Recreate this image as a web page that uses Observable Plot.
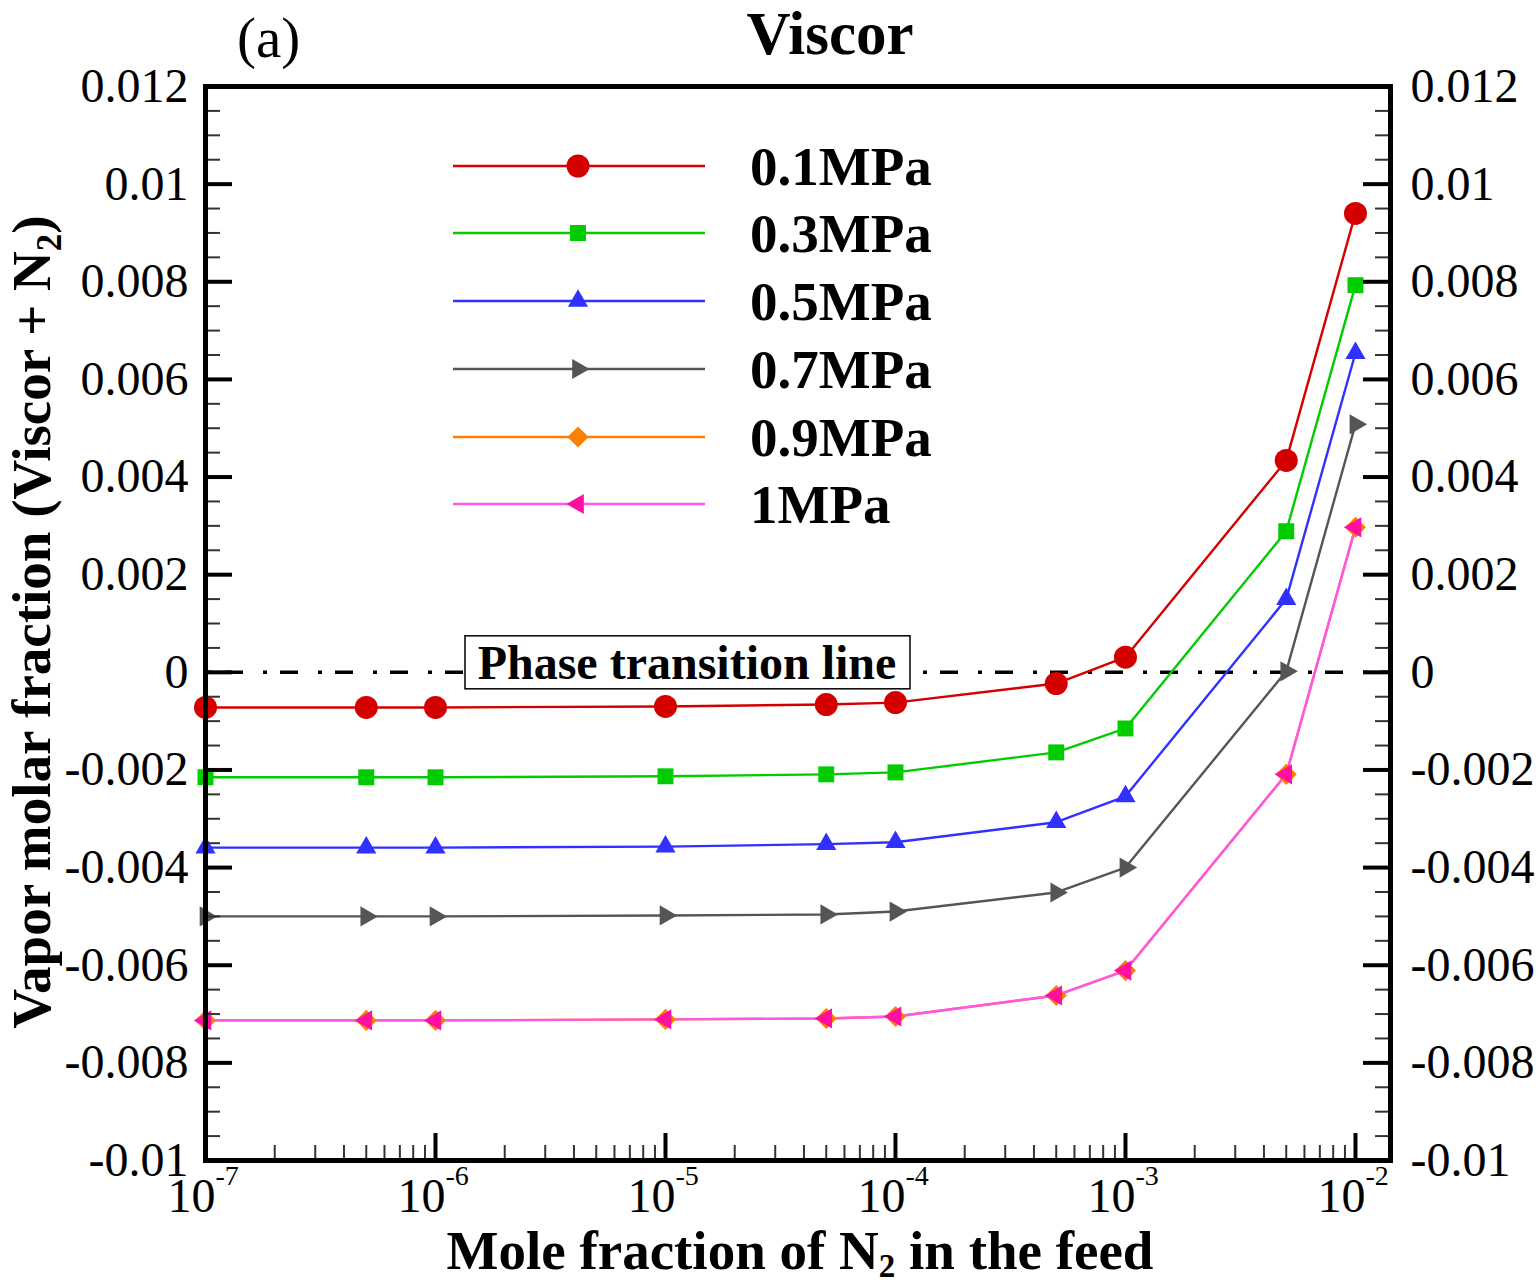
<!DOCTYPE html>
<html>
<head>
<meta charset="utf-8">
<script src="https://cdn.jsdelivr.net/npm/d3@7"></script>
<script src="https://cdn.jsdelivr.net/npm/@observablehq/plot@0.6"></script>
<style>
  html, body { margin: 0; padding: 0; background: #fff; }
  #chart { width: 1540px; height: 1286px; }
</style>
</head>
<body>
<div id="chart"></div>
<script>
// ---- data ----
const feedN2 = [1e-7, 5e-7, 1e-6, 1e-5, 5e-5, 1e-4, 5e-4, 1e-3, 5e-3, 1e-2];
const seriesNames = ["0.1MPa", "0.3MPa", "0.5MPa", "0.7MPa", "0.9MPa", "1MPa"];
const p01 = [-0.00072, -0.00072, -0.00072, -0.00070, -0.00066, -0.00062, -0.00023, 0.00031, 0.00434, 0.00940];
const p03 = [-0.00215, -0.00215, -0.00215, -0.00213, -0.00209, -0.00205, -0.00164, -0.00115, 0.00289, 0.00793];
const p05 = [-0.00359, -0.00359, -0.00359, -0.00357, -0.00352, -0.00348, -0.00307, -0.00254, 0.00150, 0.00654];
const p07 = [-0.00500, -0.00500, -0.00500, -0.00498, -0.00496, -0.00490, -0.00451, -0.00400, 0.00002, 0.00508];
const p09 = [-0.00713, -0.00713, -0.00713, -0.00711, -0.00709, -0.00705, -0.00662, -0.00611, -0.00209, 0.00297];
const p10 = [-0.00713, -0.00713, -0.00713, -0.00711, -0.00709, -0.00705, -0.00662, -0.00611, -0.00209, 0.00297];
const seriesValues = [p01, p03, p05, p07, p09, p10];
const yTickLabels = [-0.01, -0.008, -0.006, -0.004, -0.002, 0, 0.002, 0.004, 0.006, 0.008, 0.01, 0.012];
const xTickLabels = [1e-7, 1e-6, 1e-5, 1e-4, 1e-3, 1e-2];
const xTickExponents = ["-7", "-6", "-5", "-4", "-3", "-2"];

// ---- styles ----
const lineColors   = ["#d40000", "#00cc00", "#3030ff", "#555555", "#ff8000", "#ff55ee"];
const markerColors = ["#d40000", "#00cc00", "#3030ff", "#555555", "#ff8000", "#ff10a0"];
const symbols = ["circle", "square", "triangle", "triangle", "diamond2", "triangle"];
const rotations = [0, 0, 0, 90, 0, -90];
const radii = [11.5, 9, 7.5, 7.5, 9.5, 7.5];

const rows = [];
seriesValues.forEach((vals, s) => {
  vals.forEach((v, i) => rows.push({series: seriesNames[s], s, x: feedN2[i], y: v}));
});

const W = 1540, H = 1286;
const mL = 205, mR = 150, mT = 86, mB = 126;
const pw = W - mL - mR, ph = H - mT - mB;
const serif = "'Liberation Serif', 'Times New Roman', serif";

const yMinor = d3.range(-0.01, 0.01201, 0.0005).map(v => +v.toFixed(4)).filter(v => !yTickLabels.some(t => Math.abs(t - v) < 1e-9));
const xMinor = [];
for (let e = -7; e <= -3; e++) for (let k = 2; k <= 9; k++) xMinor.push(k * Math.pow(10, e));

const marks = [
  Plot.ruleY([0], {stroke: "#000", strokeWidth: 3.5, strokeDasharray: "18,20,4,13", strokeDashoffset: -20}),
];
seriesNames.forEach((name, s) => {
  marks.push(Plot.line(rows.filter(r => r.s === s), {x: "x", y: "y", stroke: lineColors[s], strokeWidth: 2.4}));
});
seriesNames.forEach((name, s) => {
  marks.push(Plot.dot(rows.filter(r => r.s === s), {x: "x", y: "y", fill: markerColors[s], stroke: "none", symbol: symbols[s], r: radii[s], rotate: rotations[s]}));
});
marks.push(
  // y ticks left and right
  Plot.tickY(yTickLabels, {y: d => d, stroke: "#000", strokeWidth: 4, insetRight: pw - 27}),
  Plot.tickY(yTickLabels, {y: d => d, stroke: "#000", strokeWidth: 4, insetLeft: pw - 27}),
  Plot.tickY(yMinor, {y: d => d, stroke: "#333", strokeWidth: 2, insetRight: pw - 15}),
  Plot.tickY(yMinor, {y: d => d, stroke: "#333", strokeWidth: 2, insetLeft: pw - 15}),
  // x ticks bottom
  Plot.tickX(xTickLabels, {x: d => d, stroke: "#000", strokeWidth: 4, insetTop: ph - 27}),
  Plot.tickX(xMinor, {x: d => d, stroke: "#333", strokeWidth: 2, insetTop: ph - 15}),
  // tick labels
  Plot.text(yTickLabels, {y: d => d, frameAnchor: "left", dx: -17, textAnchor: "end", text: d => String(+d.toFixed(3)), fontSize: 48, fontFamily: serif, fill: "#000"}),
  Plot.text(yTickLabels, {y: d => d, frameAnchor: "right", dx: 20, textAnchor: "start", text: d => String(+d.toFixed(3)), fontSize: 48, fontFamily: serif, fill: "#000"}),
  Plot.text(xTickLabels, {x: d => d, frameAnchor: "bottom", dx: 10, dy: 51, lineAnchor: "bottom", textAnchor: "end", text: () => "10", fontSize: 48, fontFamily: serif, fill: "#000"}),
  Plot.text(xTickLabels, {x: d => d, frameAnchor: "bottom", dx: 10, dy: 24, lineAnchor: "bottom", textAnchor: "start", text: (d, i) => xTickExponents[i], fontSize: 28, fontFamily: serif, fill: "#000"}),
  Plot.frame({stroke: "#000", strokeWidth: 5})
);

const plot = Plot.plot({
  width: W, height: H,
  marginLeft: mL, marginRight: mR, marginTop: mT, marginBottom: mB,
  style: {background: "#fff", fontFamily: serif, overflow: "visible"},
  x: {type: "log", domain: [1e-7, 1.42e-2], axis: null},
  y: {domain: [-0.01, 0.012], axis: null},
  marks
});
document.getElementById("chart").appendChild(plot);

// ---- annotations (pixel space) ----
const svg = d3.select(plot);
const g = svg.append("g").attr("font-family", serif).attr("fill", "#000");

g.append("text").attr("x", 830).attr("y", 54).attr("text-anchor", "middle")
  .attr("font-weight", "bold").attr("font-size", 61).text("Viscor");
g.append("text").attr("x", 237).attr("y", 57).attr("text-anchor", "start")
  .attr("font-size", 57).text("(a)");

// x label
const xl = g.append("text").attr("x", 800).attr("y", 1269).attr("text-anchor", "middle")
  .attr("font-weight", "bold").attr("font-size", 55);
xl.append("tspan").text("Mole fraction of N");
xl.append("tspan").attr("font-size", 33).attr("dy", 8).text("2");
xl.append("tspan").attr("dy", -8).text(" in the feed");

// y label
const yl = g.append("text").attr("transform", "translate(50,622) rotate(-90)").attr("text-anchor", "middle")
  .attr("font-weight", "bold").attr("font-size", 55);
yl.append("tspan").text("Vapor molar fraction (Viscor + N");
yl.append("tspan").attr("font-size", 35).attr("dy", 11).text("2");
yl.append("tspan").attr("dy", -11).text(")");

// phase transition label
const y0 = plot.scale("y").apply(0);
g.append("rect").attr("x", 465).attr("y", y0 - 36).attr("width", 445).attr("height", 53)
  .attr("fill", "#fff").attr("stroke", "#000").attr("stroke-width", 1.5);
g.append("text").attr("x", 687).attr("y", y0 + 7).attr("text-anchor", "middle")
  .attr("font-weight", "bold").attr("font-size", 48).text("Phase transition line");

// legend
const legY = [166, 233, 301, 369, 437, 504];
const symMap = {circle: d3.symbolCircle, square: d3.symbolSquare, triangle: d3.symbolTriangle, diamond2: d3.symbolDiamond2};
seriesNames.forEach((name, s) => {
  const yy = legY[s];
  g.append("line").attr("x1", 453).attr("x2", 705).attr("y1", yy).attr("y2", yy)
    .attr("stroke", lineColors[s]).attr("stroke-width", 2.4);
  g.append("path").attr("d", d3.symbol(symMap[symbols[s]], Math.PI * radii[s] * radii[s])())
    .attr("transform", `translate(578,${yy}) rotate(${rotations[s]})`).attr("fill", markerColors[s]);
  g.append("text").attr("x", 750).attr("y", yy + 19).attr("text-anchor", "start")
    .attr("font-weight", "bold").attr("font-size", 55).text(name);
});
</script>
</body>
</html>
